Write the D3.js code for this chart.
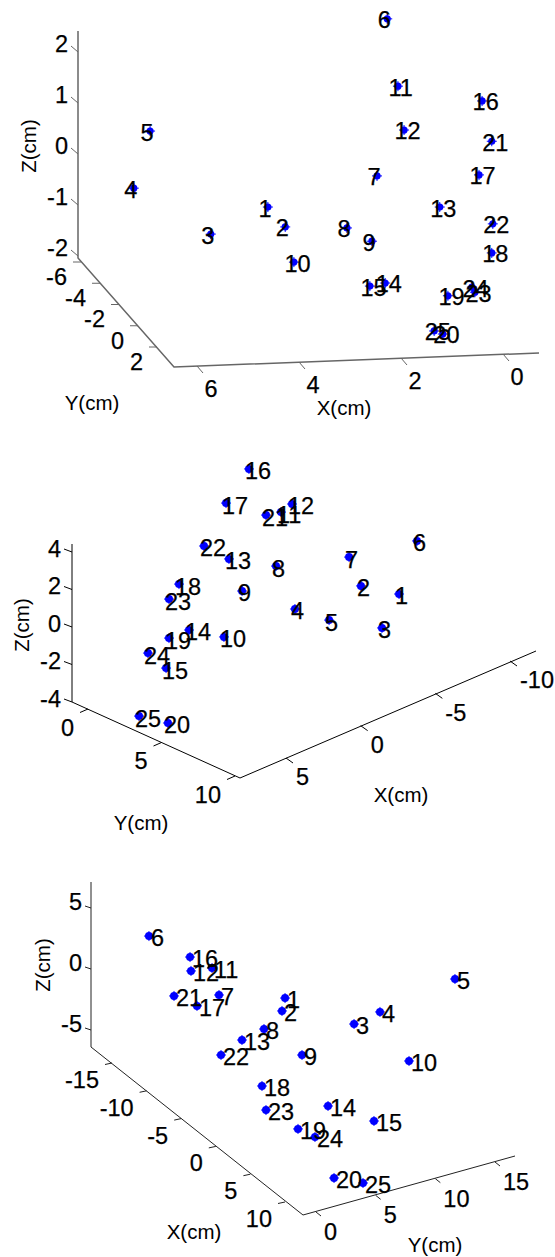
<!DOCTYPE html>
<html>
<head>
<meta charset="utf-8">
<script src="https://cdnjs.cloudflare.com/ajax/libs/d3/7.8.5/d3.min.js"></script>
<style>
  html, body { margin: 0; background: #fff; }
  text { font-family: "Liberation Sans", Arial, sans-serif; fill: #000; stroke: #000; stroke-width: 0.25; }
</style>
</head>
<body>
<svg id="chart" width="555" height="1257"></svg>
<script>
// point ids, same order in every view
const ids = d3.range(1, 26)

// positions as read from each view: view* = horizontal reading, height* = vertical reading
const viewA = [4.61,4.27,5.73,7.24,6.92,2.27,2.47,3.06,2.57,4.10,2.06,1.94,1.24,2.31,2.61,0.41,0.47,0.22,1.08,1.18,0.22,0.20,0.55,0.61,1.35]
const heightA = [-1.04,-1.43,-1.57,-0.67,0.45,2.65,-0.43,-1.45,-1.71,-2.12,1.33,0.47,-1.04,-2.53,-2.59,1.04,-0.41,-1.94,-2.78,-3.53,0.25,-1.37,-2.71,-2.61,-3.47]

const viewB = [-2.52,0.07,-1.36,4.56,2.24,-3.74,0.88,5.85,8.16,9.39,5.51,4.76,9.05,11.77,13.33,7.69,9.25,12.45,13.13,13.20,6.53,10.75,13.13,14.56,15.17]
const heightB = [1.76,2.19,-0.05,0.96,0.37,4.59,3.73,3.25,1.92,-0.53,6.13,6.56,3.63,-0.16,-2.19,8.43,6.61,2.29,-0.59,-5.12,5.97,4.32,1.49,-1.39,-4.75]

const viewC = [9.86,9.42,19.86,23.62,34.49,-9.86,0.29,6.81,12.32,27.83,-0.72,-3.77,3.62,16.09,22.75,-3.91,-2.90,6.52,11.74,16.96,-6.23,0.58,7.10,14.20,21.16]
const heightC = [-2.38,-3.44,-4.51,-3.52,-0.82,2.70,-2.13,-4.92,-7.05,-7.54,0.08,-0.16,-5.82,-11.23,-12.46,0.98,-3.03,-9.59,-13.11,-17.13,-2.21,-7.05,-11.56,-13.77,-17.54]

// tick labels
const xTicksA = [6, 4, 2, 0]
const yTicksA = [-6, -4, -2, 0, 2]
const zTicksA = [2, 1, 0, -1, -2]

const xTicksB = [5, 0, -5, -10]
const yTicksB = [0, 5, 10]
const zTicksB = [4, 2, 0, -2, -4]

const xTicksC = [-15, -10, -5, 0, 5, 10]
const yTicksC = [0, 5, 10, 15]
const zTicksC = [5, 0, -5]

const panels = [
  {
    view: viewA, height: heightA,
    sx: d3.scaleLinear().domain([0, 6]).range([503, 197]),
    sy: d3.scaleLinear().domain([-2, 2]).range([256, 52]),
    frame: [[78, 31], [78, 258], [174, 367], [539, 353]],
    stroke: '#666', strokeWidth: 1.5, labelDx: -9.5, labelDy: 1, dot: 3.6,
    axes: [
      { ticks: zTicksA, a: [78, 52], b: [78, 256], tick: [-7, -6], anchor: 'end', off: [-10, -8] },
      { ticks: yTicksA, a: [81, 262], b: [157, 347], tick: [-8, 0], anchor: 'end', off: [-14, 14.5] },
      { ticks: xTicksA, a: [197, 366], b: [503, 354], tick: [6, 7], anchor: 'middle', off: [14, 22.5] }
    ],
    titles: [['X(cm)', 344, 408, 0], ['Y(cm)', 92, 403, 0], ['Z(cm)', 29, 146, -90]]
  },
  {
    view: viewB, height: heightB,
    sx: d3.scaleLinear().domain([0, 5]).range([362, 288.5]),
    sy: d3.scaleLinear().domain([-4, 4]).range([702, 552]),
    frame: [[72, 544], [72, 702], [240, 778], [536, 651]],
    stroke: '#000', strokeWidth: 1, labelDx: -4, labelDy: 2, dot: 4,
    axes: [
      { ticks: zTicksB, a: [72, 552], b: [72, 702], tick: [-8, -3], anchor: 'end', off: [-11, -3.5] },
      { ticks: yTicksB, a: [88, 709], b: [235, 776], tick: [-8, 3.5], anchor: 'end', off: [-14, 18.5] },
      { ticks: xTicksB, a: [286, 758], b: [510, 661], tick: [7, 5], anchor: 'start', off: [10, 19] }
    ],
    titles: [['X(cm)', 401, 795, 0], ['Y(cm)', 141, 823, 0], ['Z(cm)', 22, 625, -90]]
  },
  {
    view: viewC, height: heightC,
    sx: d3.scaleLinear().domain([0, 5]).range([217, 251.5]),
    sy: d3.scaleLinear().domain([-5, 5]).range([1030, 908]),
    frame: [[91, 882], [91, 1047], [303, 1215], [515, 1156]],
    stroke: '#222', strokeWidth: 1, labelDx: 2, labelDy: 1.5, dot: 4,
    axes: [
      { ticks: zTicksC, a: [91, 908], b: [91, 1030], tick: [-6, -2], anchor: 'end', off: [-9, -6] },
      { ticks: xTicksC, a: [112, 1063], b: [285, 1202], tick: [-7, 1.5], anchor: 'end', off: [-13, 16.5] },
      { ticks: yTicksC, a: [316, 1212], b: [495, 1162], tick: [5, 4], anchor: 'start', off: [8, 19.5] }
    ],
    titles: [['X(cm)', 194, 1232, 0], ['Y(cm)', 435, 1245, 0], ['Z(cm)', 43, 965, -90]]
  }
]

const svg = d3.select('#chart')
const line = d3.line()

panels.forEach(p => {
  const g = svg.append('g')

  g.append('path')
    .attr('d', line(p.frame))
    .attr('fill', 'none')
    .attr('stroke', p.stroke)
    .attr('stroke-width', p.strokeWidth)

  p.axes.forEach(ax => {
    // tick value -> position along the axis line
    const first = ax.ticks[0], last = ax.ticks[ax.ticks.length - 1]
    const ax_ = d3.scaleLinear().domain([first, last]).range([ax.a[0], ax.b[0]])
    const ay_ = d3.scaleLinear().domain([first, last]).range([ax.a[1], ax.b[1]])

    g.selectAll(null)
      .data(ax.ticks)
      .enter().append('line')
      .attr('x1', d => ax_(d))
      .attr('y1', d => ay_(d))
      .attr('x2', d => ax_(d) + ax.tick[0])
      .attr('y2', d => ay_(d) + ax.tick[1])
      .attr('stroke', p.stroke)
      .attr('stroke-width', 1)

    g.selectAll(null)
      .data(ax.ticks)
      .enter().append('text')
      .attr('x', d => ax_(d) + ax.off[0])
      .attr('y', d => ay_(d) + ax.off[1])
      .attr('dy', '0.36em')
      .attr('text-anchor', ax.anchor)
      .attr('font-size', 23.5)
      .text(d => String(d))
  })

  p.titles.forEach(t => {
    g.append('text')
      .attr('transform', `translate(${t[1]},${t[2]}) rotate(${t[3]})`)
      .attr('dy', '0.36em')
      .attr('text-anchor', 'middle')
      .attr('font-size', 20.5)
      .style('stroke-width', 0)
      .text(t[0])
  })

  const pts = ids.map((id, i) => ({ id, h: p.view[i], v: p.height[i] }))

  const marks = g.selectAll('.mark')
    .data(pts)
    .enter().append('g')
    .attr('class', 'mark')
    .attr('transform', d => `translate(${p.sx(d.h)},${p.sy(d.v)})`)

  marks.append('circle')
    .attr('r', p.dot)
    .attr('fill', '#0000ff')
  marks.append('path')
    .attr('d', 'M-5,0H5M0,-5V5')
    .attr('stroke', '#0000ff')
    .attr('stroke-width', 1)

  g.selectAll('.pt-label')
    .data(pts)
    .enter().append('text')
    .attr('class', 'pt-label')
    .attr('x', d => p.sx(d.h) + p.labelDx)
    .attr('y', d => p.sy(d.v) + p.labelDy)
    .attr('dy', '0.36em')
    .attr('font-size', 23.5)
    .text(d => d.id)
})
</script>
</body>
</html>
